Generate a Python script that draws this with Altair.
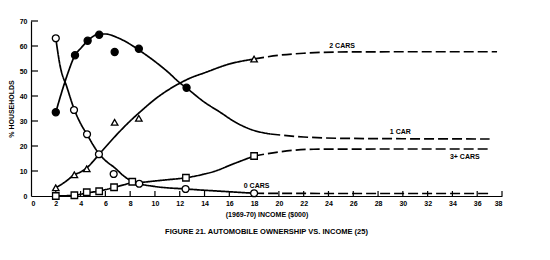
import altair as alt
import pandas as pd

# ---------------- observed points ----------------
X_ONE = [2.0, 3.55, 4.57, 5.5, 6.75, 8.7, 12.55]
Y_ONE = [33.5, 56.3, 62.1, 64.5, 57.6, 58.9, 43.3]
X_ZERO = [2.0, 3.47, 4.52, 5.48, 6.67, 8.73, 12.47, 18.0]
Y_ZERO = [63.1, 34.4, 24.7, 16.7, 8.8, 4.9, 2.8, 1.1]
X_TWO = [2.0, 3.5, 4.5, 6.75, 8.7, 18.0]
Y_TWO = [3.3, 8.5, 10.9, 29.5, 31.1, 54.8]
X_THREE = [2.0, 3.5, 4.5, 5.5, 6.7, 8.17, 12.5, 18.0]
Y_THREE = [0.0, 0.3, 1.5, 1.9, 3.5, 5.7, 7.3, 16.0]

# ---------------- fitted curves ----------------
C1_X = [2, 2.6, 3, 3.55, 4, 4.57, 5, 5.5, 6, 7, 8, 9, 10, 11, 12, 12.55, 14, 15.2, 16.5, 17.7, 19.3]
C1_Y = [33.5, 43.5, 49.5, 56.3, 59, 62, 63.8, 64.8, 64.8, 63.3, 60.7, 57.4, 53.8, 49.8, 45.3, 43.2, 37.5, 33.7, 29.5, 26.7, 24.8]
C1D_X = [19.3, 22, 24.7, 30, 37]
C1D_Y = [24.8, 23.6, 23.1, 22.9, 22.8]

C0_X = [2, 2.35, 2.9, 3.5, 4, 4.5, 5, 5.5, 6, 6.7, 7.7, 8.7, 10, 12.5, 15, 18]
C0_Y = [63.1, 52, 43.5, 34.5, 29, 24.8, 20.5, 16.8, 14.2, 11.5, 7.2, 5.0, 3.8, 2.8, 2.0, 1.1]
C0D_X = [18, 25, 37]
C0D_Y = [1.1, 1.0, 1.0]

C2_X = [2, 2.8, 3.5, 4, 4.5, 5, 5.5, 6, 7, 8, 9, 10, 11, 12, 13, 13.9, 16, 18]
C2_Y = [3.3, 5.8, 8.5, 9.6, 11.2, 13.8, 16.7, 19.5, 25, 30, 34.5, 38.7, 42.2, 45.1, 47.5, 49.1, 52.8, 54.8]
C2D_X = [18, 20, 22, 24.7, 30, 37.6]
C2D_Y = [54.8, 56.3, 57.1, 57.6, 57.7, 57.7]

C3_X = [2, 3.5, 4.5, 5.5, 6.7, 7.5, 8.2, 9, 10, 11, 12.5, 14, 14.7, 16.3, 18]
C3_Y = [0.0, 0.3, 1.2, 2.0, 3.4, 4.5, 5.3, 5.5, 6.0, 6.5, 7.3, 8.8, 9.7, 12.8, 16.0]
C3D_X = [18, 20.1, 22.8, 30, 37]
C3D_Y = [16.0, 17.7, 18.7, 18.8, 18.8]

LABELS = ["2 CARS", "1 CAR", "3+ CARS", "0 CARS"]
LABEL_X = [25.1, 29.8, 35.0, 18.2]
LABEL_Y = [60.0, 25.6, 15.7, 4.1]

X_TICKS = list(range(0, 39, 2))
Y_TICKS = [0, 10, 20, 30, 40, 50, 60, 70]

FONT = "Liberation Sans"

# ---------------- build tables ----------------
rows = []
for name, xs, ys, style in [
    ("1s", C1_X, C1_Y, "solid"), ("1d", C1D_X, C1D_Y, "dashed"),
    ("0s", C0_X, C0_Y, "solid"), ("0d", C0D_X, C0D_Y, "dashed"),
    ("2s", C2_X, C2_Y, "solid"), ("2d", C2D_X, C2D_Y, "dashed"),
    ("3s", C3_X, C3_Y, "solid"), ("3d", C3D_X, C3D_Y, "dashed"),
]:
    for x, y in zip(xs, ys):
        rows.append({"seg": name, "style": style, "x": x, "y": y})
curves = pd.DataFrame(rows)

xscale = alt.Scale(domain=[0, 38], nice=False, zero=False)
yscale = alt.Scale(domain=[0, 70], nice=False)

xaxis = alt.Axis(values=X_TICKS, title="(1969-70) INCOME ($000)", ticks=False,
                 labelPadding=3, titlePadding=4, format="d", labelOverlap=False,
                 labelFontSize=7, labelFont=FONT, labelFontWeight="bold",
                 titleFontSize=7, titleFont=FONT, titleFontWeight="bold")
yaxis = alt.Axis(values=Y_TICKS, title="% HOUSEHOLDS", ticks=False,
                 labelPadding=4, titlePadding=5, format="d", labelOverlap=False,
                 labelFontSize=7, labelFont=FONT, labelFontWeight="bold",
                 titleFontSize=7, titleFont=FONT, titleFontWeight="bold")


def X(field="x"):
    return alt.X(f"{field}:Q", scale=xscale, axis=xaxis)


def Y(field="y"):
    return alt.Y(f"{field}:Q", scale=yscale, axis=yaxis)


lines = alt.Chart(curves).mark_line(interpolate="monotone", color="black", strokeWidth=1.7).encode(
    x=X(), y=Y(),
    detail="seg:N",
    strokeDash=alt.StrokeDash("style:N", scale=alt.Scale(domain=["solid", "dashed"],
                                                          range=[[1, 0], [10, 4]]), legend=None),
)


def pts(xs, ys, shape, fill, size):
    df = pd.DataFrame({"x": xs, "y": ys})
    return alt.Chart(df).mark_point(shape=shape, filled=True, fill=fill, stroke="black",
                                    strokeWidth=1.3, opacity=1, size=size).encode(x=X(), y=Y())


p1 = pts(X_ONE, Y_ONE, "circle", "black", 50)
p0 = pts(X_ZERO, Y_ZERO, "circle", "white", 48)
p2 = pts(X_TWO, Y_TWO, "triangle-up", "white", 42)
p3 = pts(X_THREE, Y_THREE, "square", "white", 42)

xt = alt.Chart(pd.DataFrame({"x": X_TICKS[1:]})).mark_rule(color="black", strokeWidth=1.2).encode(
    x=X(), y=alt.value(175), y2=alt.value(170))
yt = alt.Chart(pd.DataFrame({"y": Y_TICKS[1:]})).mark_rule(color="black", strokeWidth=1.2).encode(
    y=Y(), x=alt.value(0), x2=alt.value(7))

labels = alt.Chart(pd.DataFrame({"t": LABELS, "x": LABEL_X, "y": LABEL_Y})).mark_text(
    font=FONT, fontSize=7, fontWeight="bold", color="black").encode(
    x=X(), y=Y(), text="t:N")

chart = alt.layer(lines, xt, yt, p1, p0, p2, p3, labels).properties(
    width=471, height=175,
    background="white",
    autosize=alt.AutoSizeParams(type="none"),
    padding={"left": 31, "top": 21, "right": 48, "bottom": 64},
    title=alt.TitleParams("FIGURE 21.  AUTOMOBILE OWNERSHIP VS. INCOME (25)", orient="bottom",
                          anchor="middle", font=FONT, fontSize=7.5, fontWeight="bold",
                          color="black", offset=11),
).configure_view(stroke=None).configure_axis(
    grid=False, domainColor="black", domainWidth=1.2, labelColor="black", titleColor="black",
)

chart.save("out.html", embed_options={"renderer": "svg", "actions": False})
